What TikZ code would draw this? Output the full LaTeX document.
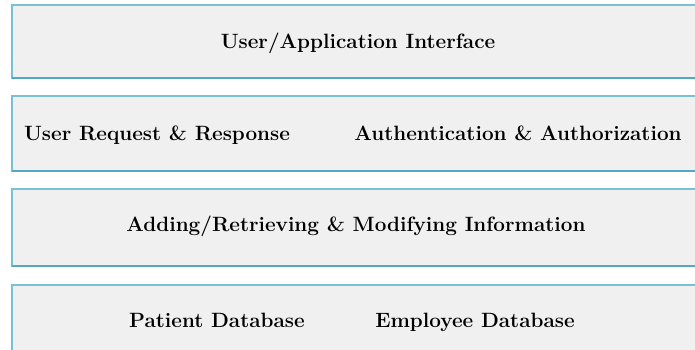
\documentclass[tikz,border=0pt]{standalone}
\usepackage{fontspec}
\usepackage{tikz}
\usetikzlibrary{positioning}

\definecolor{layerfill}{RGB}{240,240,240}
\definecolor{layerline}{RGB}{120,192,210}
\definecolor{layershade}{RGB}{80,170,198}

\begin{document}
\begin{tikzpicture}
[x=1pt, y=1pt,
layer/.style={draw=layerline, fill=layerfill, line width=1.4pt, anchor=north west,
  minimum width=700pt, inner sep=0pt, outer sep=0pt},
txt/.style={font=\fontsize{20.7}{22}\selectfont\bfseries, inner sep=0pt, anchor=base}
]
  \useasboundingbox (0,0) rectangle (695,350);
  \clip (0,0) rectangle (695,350);

  % the four layers
  \node[layer, minimum height=73pt] (l1) at (12,345) {};
  \node[layer, minimum height=75pt] (l2) at (12,254) {};
  \node[layer, minimum height=77pt] (l3) at (12,161) {};
  \node[layer, minimum height=80pt] (l4) at (12,65)  {};

  % darker bottom edges
  \foreach \l in {l1,l2,l3}
    \draw[layershade, line width=2pt] (\l.south west) -- (\l.south east);

  % texts
  \node[txt] (uai)  at (358,301) {User/Application Interface};
  \node[txt] (req)  at (157,209) {User Request \& Response};
  \node[txt] (auth) at (518,209) {Authentication \& Authorization};
  \node[txt] (info) at (356,118) {Adding/Retrieving \& Modifying Information};
  \node[txt] (pat)  at (217,22)  {Patient Database};
  \node[txt] (emp)  at (475,22)  {Employee Database};
\end{tikzpicture}
\end{document}
